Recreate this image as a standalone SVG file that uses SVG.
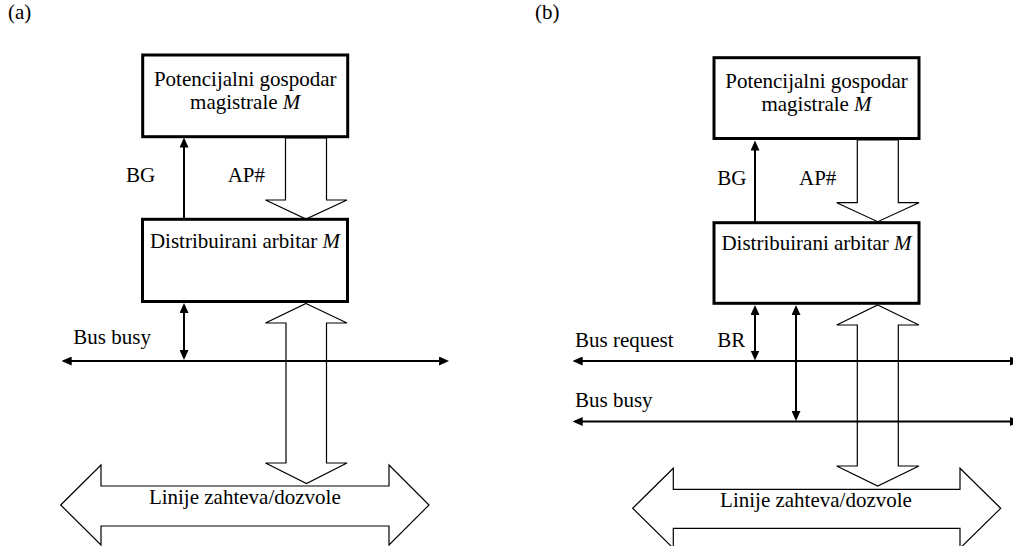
<svg xmlns="http://www.w3.org/2000/svg" width="1013" height="546" viewBox="0 0 1013 546">
  <style>
    text { font-family: "Liberation Serif", "Times New Roman", serif; font-size: 21px; fill: #000; }
    .mid { text-anchor: middle; }
    .box { fill: #fff; stroke: #000; stroke-width: 3; }
    .wire { fill: none; stroke: #000; stroke-width: 2; }
    .bus { fill: #fff; stroke: #000; stroke-width: 1.2; stroke-linejoin: miter; }
  </style>
  <defs>
    <marker id="ah" viewBox="0 0 10 9" refX="7" refY="4.5" markerWidth="10" markerHeight="9" markerUnits="userSpaceOnUse" orient="auto-start-reverse">
      <path d="M0,0 L10,4.5 L0,9 z" fill="#000"/>
    </marker>
  </defs>
  <rect width="1013" height="546" fill="#fff"/>

  <!-- panel labels -->
  <text x="8" y="19">(a)</text>
  <text x="535" y="19">(b)</text>

  <!-- connectors -->
  <g id="connectors">
    <!-- (a) wide buses -->
    <polygon class="bus" points="285.5,138 285.5,200 265.5,200 306,219 347,200 326.5,200 326.5,138"/>
    <polygon class="bus" points="306,303.5 347,323 326.5,323 326.5,463 347,463 306.5,483.5 265.5,463 286,463 286,323 265.5,323"/>
    <polygon class="bus" points="60.7,505 101,465 101,486 389,486 389,465 429,505 389,545 389,526 101,526 101,545"/>
    <!-- (a) signal lines -->
    <line class="wire" x1="184" y1="219" x2="184" y2="140.5" marker-end="url(#ah)"/>
    <line class="wire" x1="184" y1="306" x2="184" y2="357" marker-start="url(#ah)" marker-end="url(#ah)"/>
    <line class="wire" x1="64.7" y1="361" x2="446" y2="361" marker-start="url(#ah)" marker-end="url(#ah)"/>

    <!-- (b) wide buses -->
    <polygon class="bus" points="857.3,140 857.3,202.7 836.7,202.7 877.7,221.7 919,202.7 898.3,202.7 898.3,140"/>
    <polygon class="bus" points="877.7,305 919,325 898.3,325 898.3,466 919,466 877.7,486 836.7,466 857.3,466 857.3,325 836.7,325"/>
    <polygon class="bus" points="632.7,508.3 673.3,468.3 673.3,489.3 960,489.3 960,468.3 1000.7,508.3 960,548.3 960,528.3 673.3,528.3 673.3,548.3"/>
    <!-- (b) signal lines -->
    <line class="wire" x1="755" y1="222" x2="755" y2="143.5" marker-end="url(#ah)"/>
    <line class="wire" x1="755" y1="308" x2="755" y2="357.5" marker-start="url(#ah)" marker-end="url(#ah)"/>
    <line class="wire" x1="796" y1="308" x2="796" y2="418" marker-start="url(#ah)" marker-end="url(#ah)"/>
    <line class="wire" x1="575.7" y1="361" x2="1017" y2="361" marker-start="url(#ah)" marker-end="url(#ah)"/>
    <line class="wire" x1="575.7" y1="421.5" x2="1017" y2="421.5" marker-start="url(#ah)" marker-end="url(#ah)"/>
  </g>

  <!-- (a) nodes -->
  <g id="a-master">
    <rect class="box" x="142.7" y="55" width="205" height="81.7"/>
    <text class="mid" x="245.2" y="86">Potencijalni gospodar</text>
    <text class="mid" x="245.2" y="109">magistrale <tspan font-style="italic">M</tspan></text>
  </g>
  <g id="a-arbiter">
    <rect class="box" x="142.5" y="219.3" width="205" height="82.2"/>
    <text class="mid" x="245" y="248">Distribuirani arbitar <tspan font-style="italic">M</tspan></text>
  </g>
  <g id="a-labels">
    <text x="126" y="182">BG</text>
    <text x="227.7" y="182">AP#</text>
    <text x="73.3" y="344">Bus busy</text>
    <text class="mid" x="244.8" y="504">Linije zahteva/dozvole</text>
  </g>

  <!-- (b) nodes -->
  <g id="b-master">
    <rect class="box" x="714" y="57.7" width="205" height="80.8"/>
    <text class="mid" x="816.5" y="87.5">Potencijalni gospodar</text>
    <text class="mid" x="816.5" y="110.5">magistrale <tspan font-style="italic">M</tspan></text>
  </g>
  <g id="b-arbiter">
    <rect class="box" x="714" y="222.7" width="205" height="80.6"/>
    <text class="mid" x="816.5" y="250">Distribuirani arbitar <tspan font-style="italic">M</tspan></text>
  </g>
  <g id="b-labels">
    <text x="717.3" y="185">BG</text>
    <text x="799" y="185">AP#</text>
    <text x="575" y="346.7">Bus request</text>
    <text x="717.3" y="346.7">BR</text>
    <text x="575" y="406.7">Bus busy</text>
    <text class="mid" x="816" y="506.7">Linije zahteva/dozvole</text>
  </g>
</svg>
